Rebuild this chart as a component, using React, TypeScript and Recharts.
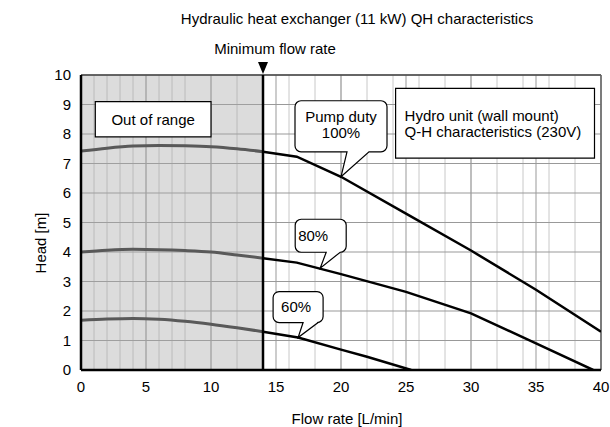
import React from 'react';
import { LineChart, Line, XAxis, YAxis, CartesianGrid, ReferenceArea, ReferenceLine, ReferenceDot } from 'recharts';

// flow rate [L/min] / head [m]
const flowLow = [0, 2, 4, 6, 8, 10, 12, 14];
const head100Low = [7.42, 7.52, 7.59, 7.61, 7.6, 7.57, 7.5, 7.4];
const head80Low = [4.0, 4.06, 4.09, 4.08, 4.05, 4.0, 3.9, 3.79];
const head60Low = [1.69, 1.73, 1.75, 1.72, 1.65, 1.55, 1.43, 1.3];

const flow100High = [14, 16.6, 20, 25, 30, 35, 40];
const head100High = [7.4, 7.23, 6.55, 5.3, 4.05, 2.72, 1.3];
const flow80High = [14, 16.6, 20, 25, 30, 35, 39.4];
const head80High = [3.79, 3.64, 3.25, 2.65, 1.92, 0.9, 0];
const flow60High = [14, 16.7, 20, 22, 25.4];
const head60High = [1.3, 1.1, 0.69, 0.45, 0];

const xTicks = [0, 5, 10, 15, 20, 25, 30, 35, 40];
const yTicks = [0, 1, 2, 3, 4, 5, 6, 7, 8, 9, 10];
const minorX = Array.from({ length: 41 }, (_, i) => i);

const minFlow = 14;

const toPoints = (xs: number[], ys: number[]) => xs.map((x, i) => ({ x, h: ys[i] }));

const FONT = '"Liberation Sans", Arial, sans-serif';
const FS = 15;

const Callout = ({ cx, cy, l, r, t, b, bl, br, lines, tx, ty, anchor = 'middle' }: any) => {
  const k = 6;
  const d = `M${l + k},${t} H${r - k} A${k},${k} 0 0 1 ${r},${t + k} V${b - k} A${k},${k} 0 0 1 ${r - k},${b} H${br} L0,0 L${bl},${b} H${l + k} A${k},${k} 0 0 1 ${l},${b - k} V${t + k} A${k},${k} 0 0 1 ${l + k},${t} Z`;
  return (
    <g transform={`translate(${cx},${cy})`}>
      <path d={d} fill="#fff" stroke="#000" strokeWidth={1.2} />
      {lines.map((s: string, i: number) => (
        <text key={i} x={tx} y={ty + i * 16} textAnchor={anchor} dominantBaseline="central" fontSize={FS} fill="#000">
          {s}
        </text>
      ))}
    </g>
  );
};

const App: React.FC = () => {
  const lineLow = { type: 'monotone' as const, stroke: '#595959', strokeWidth: 3, dot: false, isAnimationActive: false, dataKey: 'h' };
  const lineHigh = { type: 'linear' as const, stroke: '#000', strokeWidth: 2.5, dot: false, isAnimationActive: false, dataKey: 'h' };

  return (
    <div style={{ position: 'absolute', left: 0, top: 0, width: 610, height: 427, fontFamily: FONT, background: '#fff' }}>
      <div style={{ position: 'absolute', left: 357, top: 18, transform: 'translate(-50%,-50%)', fontSize: FS, whiteSpace: 'nowrap' }}>
        Hydraulic heat exchanger (11 kW) QH characteristics
      </div>
      <div style={{ position: 'absolute', left: 347, top: 418, transform: 'translate(-50%,-50%)', fontSize: FS, whiteSpace: 'nowrap' }}>
        Flow rate [L/min]
      </div>
      <div style={{ position: 'absolute', left: 40, top: 243, transform: 'translate(-50%,-50%) rotate(-90deg)', fontSize: FS, whiteSpace: 'nowrap' }}>
        Head [m]
      </div>
      <LineChart width={610} height={427} margin={{ top: 75, right: 9, left: 21, bottom: 27 }}>
        <CartesianGrid stroke="#c8c8c8" horizontal={false} verticalValues={minorX} />
        <CartesianGrid stroke="#999" verticalValues={xTicks} horizontalValues={yTicks} />
        <XAxis
          type="number"
          dataKey="x"
          domain={[0, 40]}
          ticks={xTicks}
          allowDataOverflow
          tickSize={0}
          tickMargin={11}
          axisLine={{ stroke: '#000', strokeWidth: 2.5 }}
          tick={{ fill: '#000', fontSize: FS }}
          height={30}
        />
        <YAxis
          type="number"
          domain={[0, 10]}
          ticks={yTicks}
          allowDataOverflow
          tickSize={0}
          tickMargin={10}
          axisLine={{ stroke: '#000', strokeWidth: 2.5 }}
          tick={{ fill: '#000', fontSize: FS }}
          width={60}
        />
        <ReferenceArea x1={0} x2={minFlow} y1={0} y2={10} fill="#a8a8a8" fillOpacity={0.4} stroke="none" />
        <ReferenceLine y={10} stroke="#444" strokeWidth={1.5} />
        <ReferenceLine x={40} stroke="#666" strokeWidth={1.5} />
        <ReferenceArea
          x1={1.1}
          x2={10}
          y1={7.9}
          y2={9.1}
          fill="#fff"
          fillOpacity={1}
          stroke="#000"
          strokeWidth={1.2}
          label={(p: any) => {
            const v = p.viewBox;
            return (
              <text x={v.x + v.width / 2} y={v.y + v.height / 2} textAnchor="middle" dominantBaseline="central" fontSize={FS} fill="#000">
                Out of range
              </text>
            );
          }}
        />
        <ReferenceArea
          x1={24.2}
          x2={39.5}
          y1={7.18}
          y2={9.55}
          fill="#fff"
          fillOpacity={1}
          stroke="#000"
          strokeWidth={1.2}
          label={(p: any) => {
            const v = p.viewBox;
            return (
              <g>
                <text x={v.x + 9} y={v.y + 27} dominantBaseline="central" fontSize={FS} fill="#000">
                  Hydro unit (wall mount)
                </text>
                <text x={v.x + 9} y={v.y + 43} dominantBaseline="central" fontSize={FS} fill="#000">
                  Q-H characteristics (230V)
                </text>
              </g>
            );
          }}
        />
        <Line {...lineLow} data={toPoints(flowLow, head100Low)} />
        <Line {...lineLow} data={toPoints(flowLow, head80Low)} />
        <Line {...lineLow} data={toPoints(flowLow, head60Low)} />
        <Line {...lineHigh} data={toPoints(flow100High, head100High)} />
        <Line {...lineHigh} data={toPoints(flow80High, head80High)} />
        <Line {...lineHigh} data={toPoints(flow60High, head60High)} />
        <ReferenceLine
          x={minFlow}
          stroke="#000"
          strokeWidth={2.5}
          label={(p: any) => {
            const v = p.viewBox;
            return (
              <g>
                <path d={`M${v.x - 5},${v.y - 13} L${v.x + 5},${v.y - 13} L${v.x},${v.y - 1} Z`} fill="#000" />
                <text x={v.x + 12} y={v.y - 27} textAnchor="middle" dominantBaseline="central" fontSize={FS} fill="#000">
                  Minimum flow rate
                </text>
              </g>
            );
          }}
        />
        <ReferenceDot
          x={20}
          y={6.55}
          r={0}
          shape={(p: any) => (
            <Callout cx={p.cx} cy={p.cy} l={-46} r={46} t={-76} b={-25} bl={6} br={28} lines={['Pump duty', '100%']} tx={0} ty={-60} />
          )}
        />
        <ReferenceDot
          x={18.4}
          y={3.45}
          r={0}
          shape={(p: any) => (
            <Callout cx={p.cx} cy={p.cy} l={-25} r={26} t={-49} b={-16} bl={6} br={20} lines={['80%']} tx={-7} ty={-33} />
          )}
        />
        <ReferenceDot
          x={16.7}
          y={1.1}
          r={0}
          shape={(p: any) => (
            <Callout cx={p.cx} cy={p.cy} l={-25} r={25} t={-46} b={-15} bl={5} br={20} lines={['60%']} tx={-2} ty={-31} />
          )}
        />
      </LineChart>
    </div>
  );
};

export default App;
